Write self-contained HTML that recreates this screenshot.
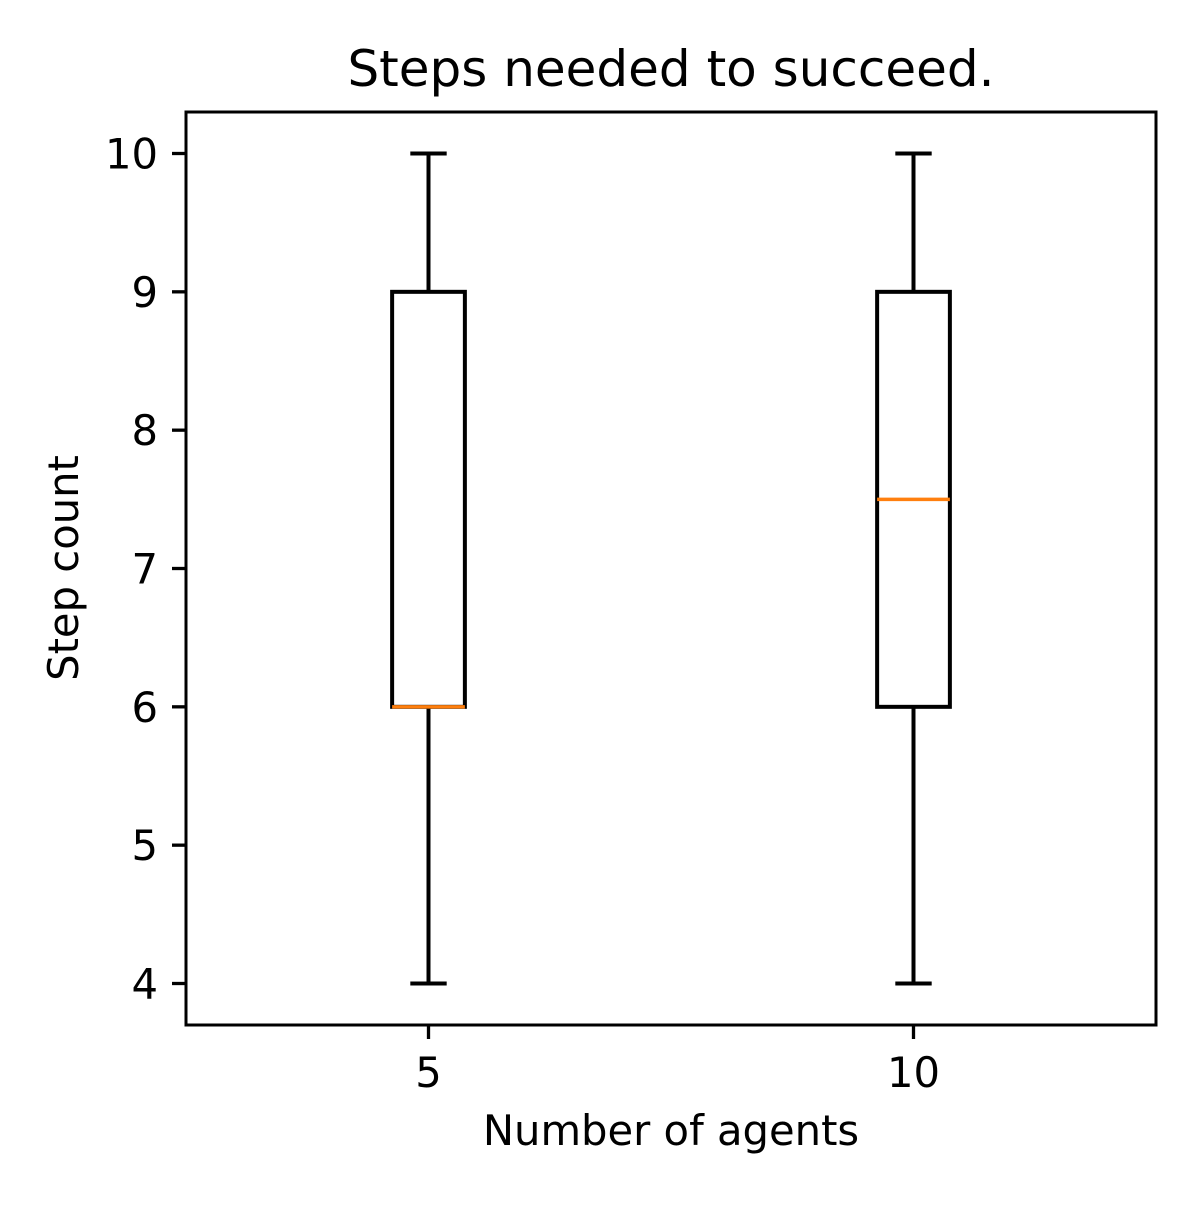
<!DOCTYPE html>
<html><head><meta charset="utf-8"><style>
html,body{margin:0;padding:0;background:#fff;}
svg text{font-family:"DejaVu Sans","Liberation Sans",sans-serif;fill:#000;}
</style></head><body>
<svg id="chart" width="1200" height="1200" viewBox="0 0 1200 1200">
<rect width="1200" height="1200" fill="#fff"/>
<g id="plot"></g>
<text x="671" y="86" font-size="50" text-anchor="middle">Steps needed to succeed.</text>
<text x="671" y="1145" font-size="41.7" text-anchor="middle">Number of agents</text>
<text transform="translate(78,568) rotate(-90)" font-size="41.7" text-anchor="middle">Step count</text>
</svg>
<script>
const categories = ["5", "10"];
const whiskerLow = [4, 4];
const q1Values = [6, 6];
const medianValues = [6, 7.5];
const q3Values = [9, 9];
const whiskerHigh = [10, 10];
const yTicks = [4, 5, 6, 7, 8, 9, 10];

const L=186,R=1156,T=112,B=1025;
const yMin=3.7,yMax=10.3,xMin=0.5,xMax=2.5;
const ys=v=>B-(v-yMin)/(yMax-yMin)*(B-T);
const xs=v=>L+(v-xMin)/(xMax-xMin)*(R-L);
const NS="http://www.w3.org/2000/svg";
const g=document.getElementById('plot');
function mk(tag,attrs,parent){const e=document.createElementNS(NS,tag);for(const k in attrs)e.setAttribute(k,attrs[k]);(parent||g).appendChild(e);return e;}
function line(x1,y1,x2,y2,c,w){return mk('line',{x1,y1,x2,y2,stroke:c||'#000','stroke-width':w||4});}

yTicks.forEach(v=>{
  const t=line(L-14,ys(v),L,ys(v),'#000',3.3);
  
  
  const tx=mk('text',{x:L-28,y:ys(v)+15,'font-size':41.7,'text-anchor':'end'});
  tx.textContent=v;
  
  
});

categories.forEach((c,i)=>{
  const x=xs(i+1), hw=(xs(1.075)-xs(1)), cw=hw/2;
  line(x,ys(whiskerLow[i]),x,ys(q1Values[i]),'#000',4);
  line(x,ys(q3Values[i]),x,ys(whiskerHigh[i]),'#000',4);
  line(x-cw,ys(whiskerLow[i]),x+cw,ys(whiskerLow[i]),'#000',4);
  line(x-cw,ys(whiskerHigh[i]),x+cw,ys(whiskerHigh[i]),'#000',4);
  const b=mk('rect',{x:x-hw,y:ys(q3Values[i]),width:2*hw,height:ys(q1Values[i])-ys(q3Values[i]),fill:'none',stroke:'#000','stroke-width':4});
  
  
  const m=line(x-hw,ys(medianValues[i]),x+hw,ys(medianValues[i]),'#ff7f0e',3.5);
  
  
  const t=line(x,B,x,B+14,'#000',3.3);
  
  
  const tx=mk('text',{x:x,y:B+62,'font-size':41.7,'text-anchor':'middle'});
  tx.textContent=c;
  
  
});
const frame=mk('rect',{x:L,y:T,width:R-L,height:B-T,fill:'none',stroke:'#000','stroke-width':3});


</script>
</body></html>
